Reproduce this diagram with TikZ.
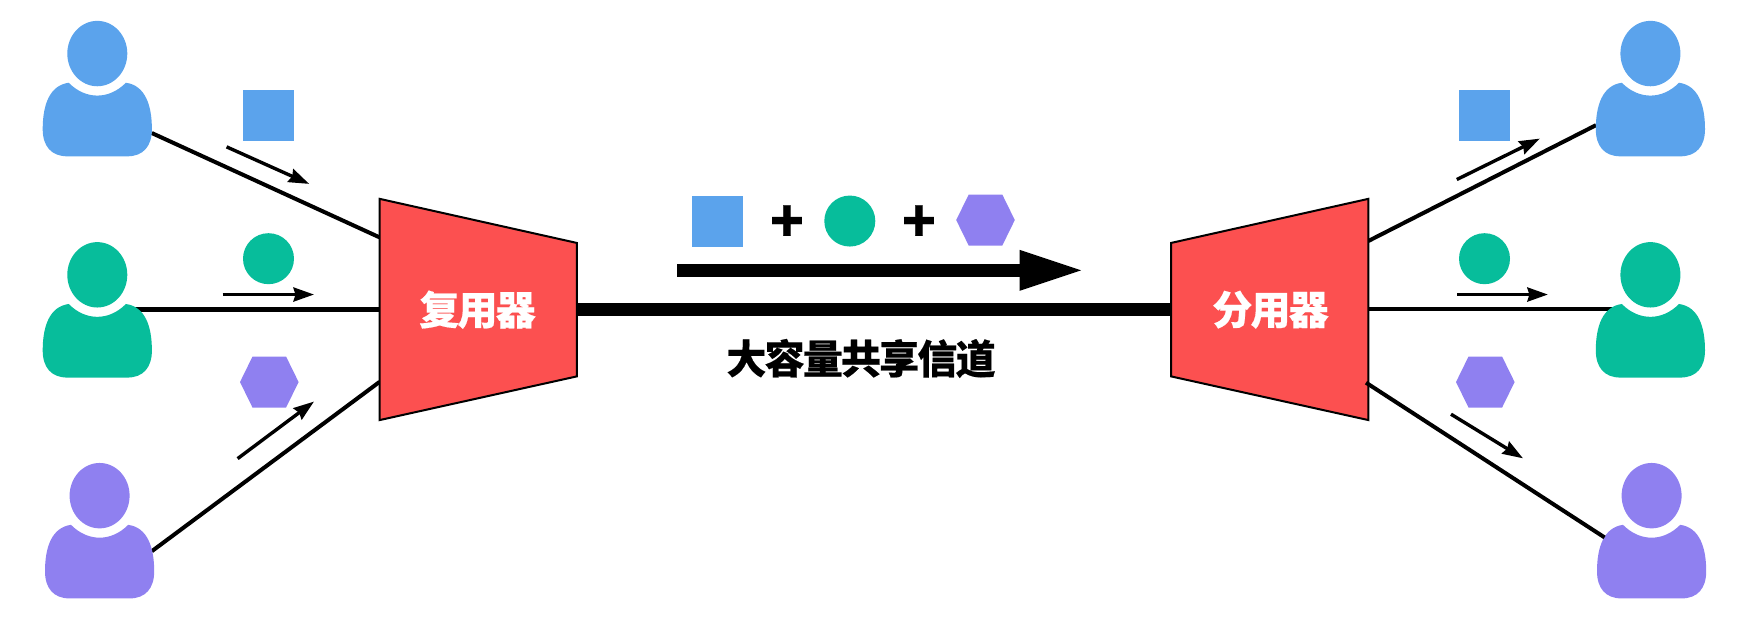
\documentclass[tikz,border=0pt]{standalone}
\usepackage{fontspec}
\newfontfamily\cjk{Noto Sans CJK SC}[BoldFeatures={FakeBold=0.4}]
\newfontfamily\cjktight{Noto Sans CJK SC}[BoldFeatures={FakeBold=0.4,LetterSpace=-4.5}]
\usetikzlibrary{arrows.meta}
\definecolor{ublue}{HTML}{5BA3EC}
\definecolor{ugreen}{HTML}{07BD9B}
\definecolor{upurple}{HTML}{8F80F0}
\definecolor{muxred}{HTML}{FC5050}
\tikzset{
  pics/user/.style={code={
    \fill[pic actions] (0,0) ellipse [x radius=30pt, y radius=32.7pt];
    \fill[pic actions] (-28.6,29.3) .. controls (-48,32) and (-54.6,52) .. (-54.6,76)
      .. controls (-54.6,93) and (-46,103.2) .. (-30,103.2) -- (30,103.2)
      .. controls (46,103.2) and (54.6,93) .. (54.6,76)
      .. controls (54.6,52) and (48,32) .. (28.6,29.3)
      .. controls (20,38) and (10,42.2) .. (0,42.2)
      .. controls (-10,42.2) and (-20,38) .. (-28.6,29.3) -- cycle;
  }},
  pics/hexa/.style={code={
    \fill[pic actions] (-29.3,0) -- (-16.8,-25.6) -- (16.8,-25.6) -- (29.3,0) -- (16.8,25.6) -- (-16.8,25.6) -- cycle;
  }},
  sqbox/.style={fill=ublue,minimum size=51pt,inner sep=0pt,outer sep=0pt,rectangle},
  ball/.style={fill=ugreen,minimum size=51pt,inner sep=0pt,outer sep=0pt,circle},
  muxbox/.style={draw=black,fill=muxred,line width=2pt,line join=miter},
  link/.style={draw=black,line width=4pt},
  flow/.style={draw=black,line width=3.4pt,-{Stealth[length=20.5pt,width=14pt,inset=2pt]}},
  label/.style={font=\cjktight\bfseries\fontsize{40pt}{42pt}\selectfont,inner sep=0pt},
  plus/.style={font=\cjk\bfseries\fontsize{56pt}{56pt}\selectfont,inner sep=0pt},
}
\begin{document}
\begin{tikzpicture}[x=1pt,y=-0.9957pt]
\useasboundingbox (0,0) rectangle (1751,619.66);
% named connector ends
\coordinate (lu1) at (151.8,133.6);
\coordinate (lu2) at (134,310.8);
\coordinate (lu3) at (151.8,553.6);
\coordinate (mi1) at (379.6,238.4);
\coordinate (mi2) at (379.6,310.8);
\coordinate (mi3) at (379.6,383.5);
\coordinate (mo) at (576.9,311);
\coordinate (di) at (1171,311);
\coordinate (do1) at (1368.4,242);
\coordinate (do2) at (1368.4,310.8);
\coordinate (do3) at (1366,384.3);
\coordinate (ru1) at (1596,125.7);
\coordinate (ru2) at (1612,310.8);
\coordinate (ru3) at (1604.5,539.7);
% connectors
\draw[link] (lu1) -- (mi1);
\draw[link,line width=4.6pt] (lu2) -- (mi2);
\draw[link] (lu3) -- (mi3);
\draw[draw=black,line width=12.5pt] (mo) -- (di);
\draw[link] (do1) -- (ru1);
\draw[link] (do2) -- (ru2);
% users
\pic[fill=ublue] at (97.3,53.8) {user};
\pic[fill=ugreen] at (97.3,276) {user};
\pic[fill=upurple] at (99.6,497.8) {user};
\pic[fill=ublue] at (1650.4,53.8) {user};
\pic[fill=ugreen] at (1650.4,276) {user};
\pic[fill=upurple] at (1651.6,497.8) {user};
% multiplexers
\path[muxbox] (379.6,199.7) -- (576.9,244) -- (576.9,378) -- (379.6,421.9) -- cycle;
\path[muxbox] (1368.4,199.7) -- (1171,244) -- (1171,378) -- (1368.4,421.9) -- cycle;
\draw[link] (do3) -- (ru3);
\node[label,text=white] (mux) at (477.5,311) {复用器};
\node[label,text=white] (demux) at (1270.5,311) {分用器};
\node[label] (chan) at (861,360) {大容量共享信道};
% tokens
\node[sqbox] (s1) at (268.7,115.7) {};
\node[ball] (c1) at (268.5,259.8) {};
\pic[fill=upurple] at (269.3,383.7) {hexa};
\node[sqbox] (s2) at (1484.6,115.7) {};
\node[ball] (c2) at (1484.5,259.8) {};
\pic[fill=upurple] at (1485.3,383.7) {hexa};
\node[sqbox] (s3) at (717.5,222) {};
\node[plus] (p1) at (787,224.5) {+};
\node[ball] (c3) at (849.8,222) {};
\node[plus] (p2) at (919,224.5) {+};
\pic[fill=upurple] at (985.5,221) {hexa};
% flow arrows
\coordinate (a1s) at (226.6,147.5); \coordinate (a1e) at (309.2,184.7);
\coordinate (a2s) at (222.6,295.8); \coordinate (a2e) at (314,295.8);
\coordinate (a3s) at (237.6,460.6); \coordinate (a3e) at (314,403.3);
\coordinate (a4s) at (1456.8,180.3); \coordinate (a4e) at (1539.8,139.2);
\coordinate (a5s) at (1457,295.8); \coordinate (a5e) at (1547.9,295.8);
\coordinate (a6s) at (1451,416); \coordinate (a6e) at (1523,460.3);
\coordinate (bigs) at (677.4,271.5); \coordinate (bige) at (1084,271.5);
\draw[flow] (a1s) -- (a1e);
\draw[flow] (a2s) -- (a2e);
\draw[flow] (a3s) -- (a3e);
\draw[flow] (a4s) -- (a4e);
\draw[flow] (a5s) -- (a5e);
\draw[flow] (a6s) -- (a6e);
\draw[draw=black,line width=12.4pt,-{Triangle[length=64.5pt,width=37pt]}] (bigs) -- (bige);
\end{tikzpicture}
\end{document}
